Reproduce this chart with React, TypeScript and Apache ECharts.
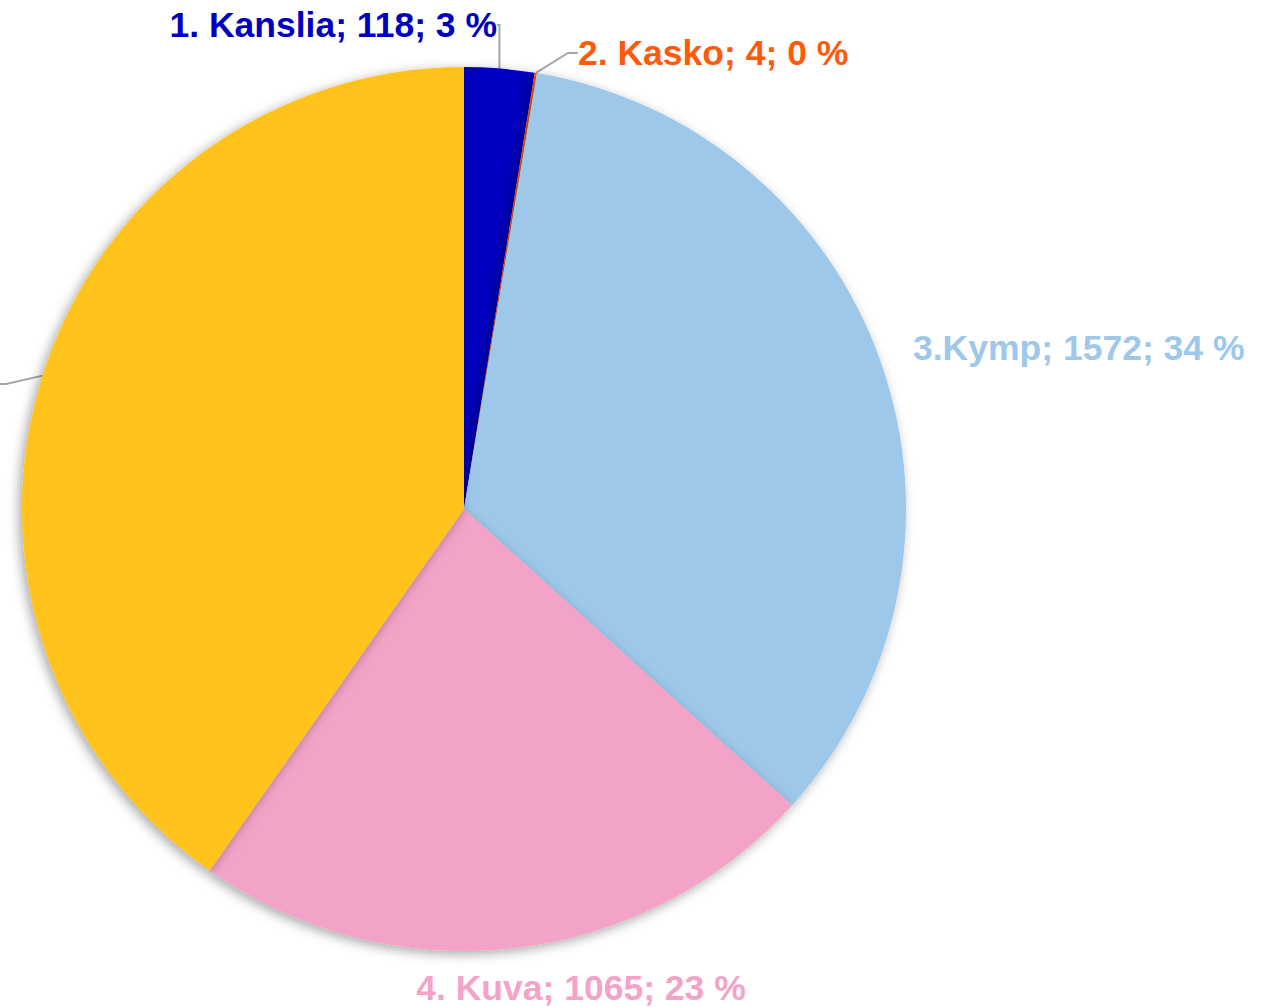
import React, { useEffect, useRef } from "react";
import * as echarts from "echarts";

const names = ["1. Kanslia", "2. Kasko", "3.Kymp", "4. Kuva", ""];
const values = [118, 4, 1572, 1065, 1858];
const percents = ["3", "0", "34", "23", "40"];
const colors = ["#0000C0", "#FF5A0A", "#9DC8EA", "#F4A3C8", "#FFC31C"];

const labelPos = [
  { x: 497, y: 25, align: "right" },
  { x: 578, y: 53, align: "left" },
  { x: 913, y: 348, align: "left" },
  { x: 581, y: 988, align: "center" },
  { x: -4, y: 384, align: "right" },
];

export default function App() {
  const ref = useRef<HTMLDivElement>(null);
  useEffect(() => {
    document.body.style.margin = "0";
    const chart = echarts.init(ref.current!, undefined, { renderer: "svg" });
    chart.setOption({
      animation: false,
      backgroundColor: "#ffffff",
      series: [
        {
          type: "pie",
          center: [464, 509],
          radius: [0, 442],
          startAngle: 90,
          clockwise: true,
          avoidLabelOverlap: false,
          itemStyle: {
            shadowBlur: 12,
            shadowColor: "rgba(0,0,0,0.35)",
            shadowOffsetX: -3,
            shadowOffsetY: 3,
          },
          label: {
            show: true,
            fontFamily: "Liberation Sans, Arial, sans-serif",
            fontWeight: "bold",
            fontSize: 35.5,
          },
          labelLine: {
            show: true,
            length: 10,
            length2: 10,
            lineStyle: { color: "#A6A6A6", width: 2 },
          },
          labelLayout: (p: any) => {
            const lp = labelPos[p.dataIndex];
            return { x: lp.x, y: lp.y, align: lp.align, verticalAlign: "middle" };
          },
          data: values.map((v, i) => ({
            name: names[i],
            value: v,
            itemStyle: { color: colors[i] },
            label: {
              color: colors[i],
              formatter: names[i] ? `${names[i]}; ${v}; ${percents[i]} %` : " ",
            },
            labelLine: { show: i === 0 || i === 1 || i === 4 },
          })),
        },
      ],
    });
    return () => chart.dispose();
  }, []);
  return (
    <div
      ref={ref}
      style={{ position: "fixed", left: 0, top: 0, width: 1273, height: 1007 }}
    />
  );
}
